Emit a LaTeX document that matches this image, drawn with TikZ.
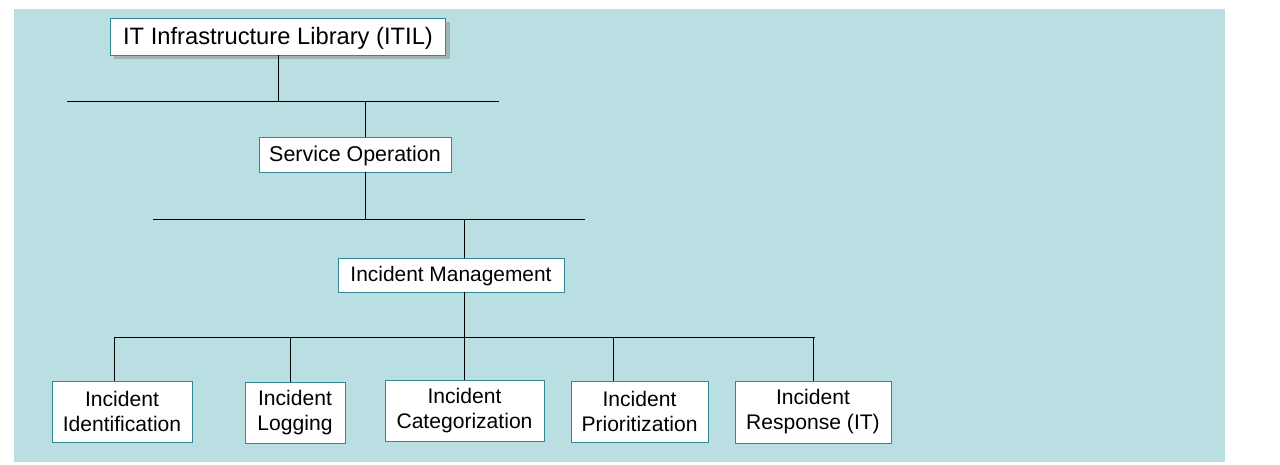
\documentclass[tikz,border=0pt]{standalone}
\usepackage{fontspec}
\setmainfont{Liberation Sans}
\usetikzlibrary{shadows}
\definecolor{itilbg}{RGB}{186,223,226}
\definecolor{itilline}{RGB}{52,136,150}
\tikzset{
  box/.style={draw=itilline, fill=white, line width=0.55pt, align=center, inner sep=0pt},
  topbox/.style={box, drop shadow={opacity=0.45, shadow xshift=2.5pt, shadow yshift=-2.5pt}},
  bus/.style={black, line width=0.55pt}
}
\begin{document}
\begin{tikzpicture}[x=0.02cm, y=-0.02cm]
    \useasboundingbox (0,0) rectangle (1280,464);
    \fill[itilbg] (14,9) rectangle (1225,462);
    % boxes
    \node[topbox, minimum width=6.72cm, minimum height=0.74cm, text depth=0.1em, font=\fontsize{13.5}{16}\selectfont] (itil) at (278,36.5) {IT Infrastructure Library (ITIL)};
    \node[box, minimum width=3.84cm, minimum height=0.70cm, text depth=0.1em, font=\fontsize{12.2}{15}\selectfont] (so) at (355,154.5) {Service Operation};
    \node[box, minimum width=4.52cm, minimum height=0.68cm, text depth=0.1em, font=\fontsize{11.9}{15}\selectfont] (im) at (451,275) {Incident Management};
    \node[box, minimum width=2.80cm, minimum height=1.22cm, font=\fontsize{12}{14.2}\selectfont] (iid) at (122,411.5) {Incident\\Identification};
    \node[box, minimum width=2.00cm, minimum height=1.22cm, font=\fontsize{12}{14.2}\selectfont] (ilog) at (295,412.5) {Incident\\Logging};
    \node[box, minimum width=3.18cm, minimum height=1.22cm, font=\fontsize{12}{14.2}\selectfont] (icat) at (464.5,410.5) {Incident\\Categorization};
    \node[box, minimum width=2.74cm, minimum height=1.22cm, font=\fontsize{12}{14.2}\selectfont] (ipri) at (639.5,411.5) {Incident\\Prioritization};
    \node[box, minimum width=3.12cm, minimum height=1.24cm, font=\fontsize{12}{14.2}\selectfont] (ires) at (813,412) {Incident\\Response (IT)};
    % bus lines
    \coordinate (busAl) at (67,101);
    \coordinate (busAr) at (499,101);
    \coordinate (busBl) at (153,219);
    \coordinate (busBr) at (585,219);
    \coordinate (busCl) at (115,337);
    \coordinate (busCr) at (815,337);
    \coordinate (jA) at (365,101);
    \coordinate (jB) at (464,219);
    \draw[bus] (busAl) -- (busAr);
    \draw[bus] (busBl) -- (busBr);
    \draw[bus] (busCl) -- (busCr);
    % connectors
    \draw[bus] (itil.south) -- (itil.south |- busAl);
    \draw[bus] (jA) -- (jA |- so.north);
    \draw[bus] (jA |- so.south) -- (jA |- busBl);
    \draw[bus] (jB) -- (jB |- im.north);
    \draw[bus] (jB |- im.south) -- (jB |- busCl);
    \foreach \n/\x in {iid/114, ilog/290, icat/464, ipri/613, ires/813}
        \draw[bus] (\x,337) -- (\x,337 |- \n.north);
\end{tikzpicture}
\end{document}
